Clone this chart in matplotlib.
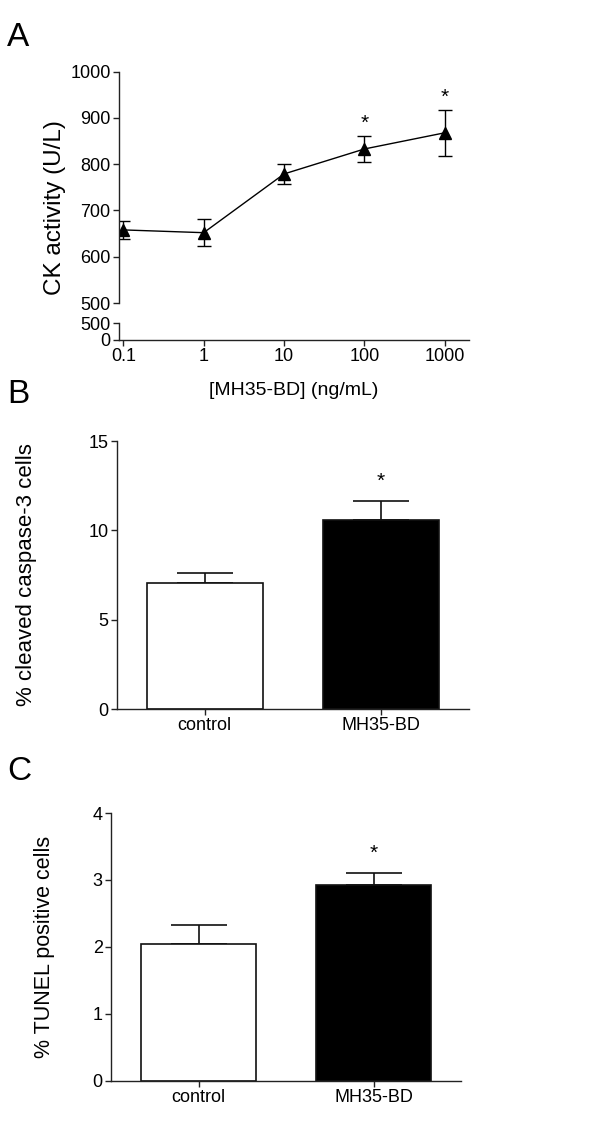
import numpy as np
import matplotlib.pyplot as plt

plt.rcParams['font.family'] = ['Liberation Sans', 'DejaVu Sans']

# Panel A: CK activity vs dose
doses = [0.1, 1, 10, 100, 1000]
ck_mean = [658, 652, 779, 833, 868]
ck_err = [20, 29, 21, 28, 50]
ck_sig = [False, False, False, True, True]
dose_labels = ['0.1', '1', '10', '100', '1000']

# Panel B: cleaved caspase-3
groups = ['control', 'MH35-BD']
casp_mean = [7.07, 10.56]
casp_err = [0.52, 1.08]

# Panel C: TUNEL
tunel_mean = [2.05, 2.93]
tunel_err = [0.28, 0.18]

bar_colors = ['white', 'black']
W, H = 600, 1127
fig = plt.figure(figsize=(W / 100, H / 100), dpi=100)

def frac(left, top, right, bottom):
    return [left / W, 1 - bottom / H, (right - left) / W, (bottom - top) / H]

def style(ax):
    for s in ['top', 'right']:
        ax.spines[s].set_visible(False)
    for s in ['left', 'bottom']:
        ax.spines[s].set_linewidth(1.0)
        ax.spines[s].set_color('#222222')
    ax.tick_params(direction='out', length=4.5, width=1.0, pad=1.5,
                   labelsize=13, colors='#222222', labelcolor='black')

# ---- Panel A (broken y axis) ----
ax_top = fig.add_axes(frac(119, 71.7, 469, 303))
ax_bot = fig.add_axes(frac(119, 323, 469, 340), sharex=ax_top)
for ax in (ax_top, ax_bot):
    style(ax)
ax_top.spines['bottom'].set_visible(False)
ax_top.tick_params(axis='x', which='both', bottom=False, labelbottom=False)

ax_top.errorbar(doses, ck_mean, yerr=ck_err, color='black', lw=1.0,
                marker='^', markersize=8, capsize=5, capthick=1.0, elinewidth=1.0)
for d, m, e, s in zip(doses, ck_mean, ck_err, ck_sig):
    if s:
        ax_top.annotate('*', (d, m + e), xytext=(0, 9), textcoords='offset points',
                        ha='center', va='center', fontsize=15)
ax_top.set_xscale('log')
ax_top.set_xlim(10 ** -1.053, 10 ** 3.3)
ax_top.set_ylim(500, 1000)
ax_top.set_yticks([500, 600, 700, 800, 900, 1000])
ax_top.set_ylabel('CK activity (U/L)', fontsize=17.5)
ax_top.yaxis.set_label_coords(-0.152, 0.413)

ax_bot.set_ylim(0, 500)
ax_bot.set_yticks([0, 500])
ax_bot.set_xticks(doses)
ax_bot.set_xticklabels(dose_labels)
ax_bot.xaxis.set_minor_locator(plt.NullLocator())
ax_bot.set_xlabel('[MH35-BD] (ng/mL)', fontsize=14, labelpad=12)

# ---- bar panels ----
def bar_panel(rect, means, errs, ylim, yticks, ylabel, labx, labsize):
    ax = fig.add_axes(rect)
    style(ax)
    x = np.arange(len(groups))
    ax.bar(x, means, width=0.66, color=bar_colors, edgecolor='#111111',
           linewidth=1.2, zorder=2)
    ax.errorbar(x, means, yerr=[np.zeros(len(errs)), errs], fmt='none',
                ecolor='#111111', elinewidth=1.2, capsize=20, capthick=1.2, zorder=1)
    ax.annotate('*', (x[1], means[1] + errs[1]), xytext=(0, 14),
                textcoords='offset points', ha='center', va='center', fontsize=15)
    ax.set_xlim(-0.5, 1.5)
    ax.set_ylim(*ylim)
    ax.set_yticks(yticks)
    ax.set_xticks(x)
    ax.set_xticklabels(groups)
    ax.set_ylabel(ylabel, fontsize=labsize)
    ax.yaxis.set_label_coords(labx, 0.5)
    return ax

bar_panel(frac(116.7, 441, 469, 709), casp_mean, casp_err, (0, 15), [0, 5, 10, 15],
          '% cleaved caspase-3 cells', -0.226, 16)
bar_panel(frac(111, 813, 461, 1080.7), tunel_mean, tunel_err, (0, 4), [0, 1, 2, 3, 4],
          '% TUNEL positive cells', -0.16, 15.5)

# panel letters
for letter, top in [('A', 22), ('B', 379), ('C', 756)]:
    fig.text(7 / W, 1 - top / H, letter, fontsize=24, ha='left', va='top')

fig.savefig('out.png', dpi=100)
